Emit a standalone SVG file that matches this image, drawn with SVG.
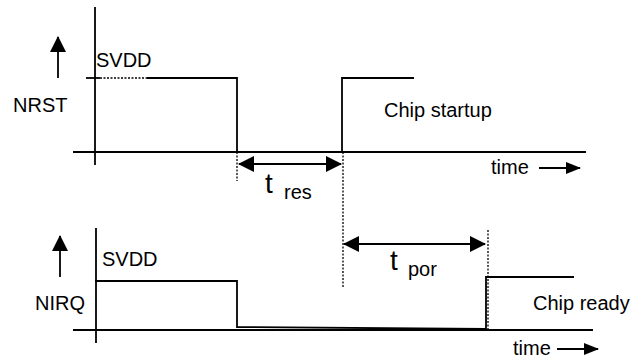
<svg xmlns="http://www.w3.org/2000/svg" width="633" height="360" viewBox="0 0 633 360">
<style>
.ln{stroke:#000;stroke-width:1.8;fill:none}
.dot{stroke:#000;stroke-width:1.3;fill:none;stroke-dasharray:2 1.5}
.tx{font-family:"Liberation Sans",Arial,sans-serif;font-size:20px;fill:#000}
.big{font-family:"Liberation Sans",Arial,sans-serif;font-size:28px;fill:#000}
</style>
<defs>
<marker id="ah" markerUnits="userSpaceOnUse" markerWidth="16" markerHeight="16" viewBox="0 0 16 16" refX="15" refY="8" orient="auto-start-reverse">
<path d="M0,0 L16,8 L0,16 Z" fill="#000"/>
</marker>
<marker id="ahs" markerUnits="userSpaceOnUse" markerWidth="15" markerHeight="12" viewBox="0 0 15 12" refX="14" refY="6" orient="auto">
<path d="M0,0 L15,6 L0,12 Z" fill="#000"/>
</marker>
</defs>
<rect width="633" height="360" fill="#fff"/>
<g id="nrst">
<line class="ln" x1="95" y1="7" x2="95" y2="165"/>
<line class="ln" x1="73" y1="152" x2="586" y2="152"/>
<polyline class="ln" points="86,78 100,78"/>
<line class="dot" x1="100" y1="78" x2="147" y2="78"/>
<polyline class="ln" points="147,78 237,78 237,152"/>
<polyline class="ln" points="342,152 342,78 414,78"/>
<text class="tx" x="96" y="67">SVDD</text>
<text class="tx" x="13" y="112">NRST</text>
<text class="tx" x="384" y="117">Chip startup</text>
<text class="tx" x="491" y="174">time</text>
</g>
<g id="nirq">
<line class="ln" x1="96" y1="228" x2="96" y2="343"/>
<line class="ln" x1="73" y1="330" x2="593" y2="330"/>
<polyline class="ln" points="95,281 237,281 237,327 486,329 486,277 574,277"/>
<text class="tx" x="102" y="266">SVDD</text>
<text class="tx" x="35" y="310">NIRQ</text>
<text class="tx" x="533" y="310">Chip ready</text>
<text class="tx" x="513" y="355">time</text>
</g>
<g id="timing">
<text class="big" x="265" y="193">t</text>
<text class="tx" x="284" y="199">res</text>
<text class="big" x="390" y="270">t</text>
<text class="tx" x="408" y="276">por</text>
</g>
<g id="connectors">
<line class="dot" x1="237" y1="152" x2="237" y2="181"/>
<line class="dot" x1="343" y1="152" x2="343" y2="287"/>
<line class="dot" x1="488" y1="230" x2="488" y2="330"/>
<line class="ln" x1="58" y1="78" x2="58" y2="37" marker-end="url(#ah)"/>
<line class="ln" x1="60" y1="277" x2="60" y2="236" marker-end="url(#ah)"/>
<line class="ln" x1="239" y1="164" x2="341" y2="164" marker-start="url(#ah)" marker-end="url(#ah)"/>
<line class="ln" x1="344" y1="244" x2="485" y2="244" marker-start="url(#ah)" marker-end="url(#ah)"/>
<line class="ln" x1="539" y1="168" x2="580" y2="168" marker-end="url(#ahs)"/>
<line class="ln" x1="557" y1="349" x2="598" y2="349" marker-end="url(#ahs)"/>
</g>
</svg>
